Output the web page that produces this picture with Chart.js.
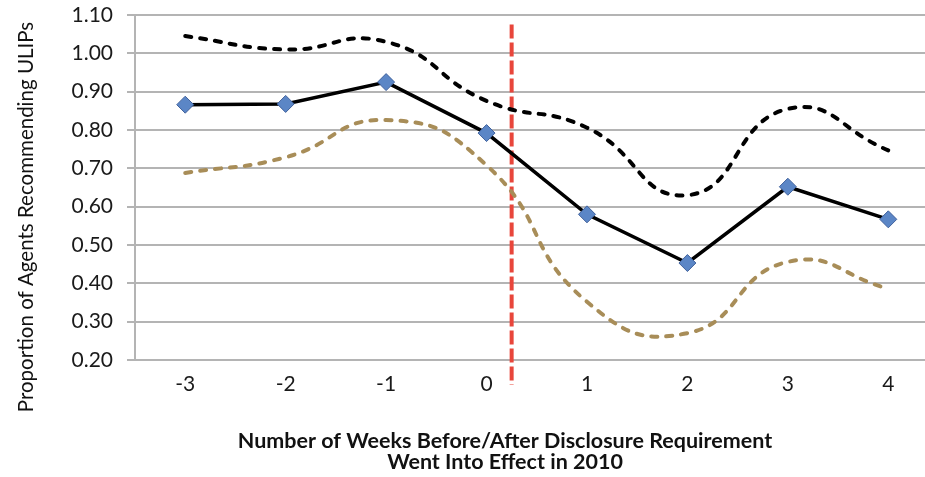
<!DOCTYPE html>
<html>
<head>
<meta charset="utf-8">
<script src="https://cdn.jsdelivr.net/npm/chart.js@4/dist/chart.umd.min.js"></script>
<style>
  html, body { margin: 0; padding: 0; background: #fff; overflow: hidden; }
  #wrap { width: 925px; height: 477px; overflow: hidden; }
</style>
</head>
<body>
<div id="wrap"><canvas id="c" width="948" height="477"></canvas></div>
<script>
// Weeks relative to the disclosure requirement
const weeks = ['-3', '-2', '-1', '0', '1', '2', '3', '4'];
// Proportion of agents recommending ULIPs, with upper and lower bands
const proportion = [0.866, 0.868, 0.925, 0.792, 0.580, 0.453, 0.652, 0.567];
const upperBand  = [1.045, 1.010, 1.030, 0.876, 0.806, 0.630, 0.855, 0.747];
const lowerBand  = [0.688, 0.729, 0.826, 0.708, 0.352, 0.270, 0.456, 0.386];
// Y axis tick range
const yMin = 0.20, yMax = 1.10, yStep = 0.10;
// Disclosure requirement marker: week offset and vertical span (in axis units)
const disclosureWeek = 0.25;
const disclosureSpan = [1.075, 0.135];

const xTitleLines = ['Number of Weeks Before/After Disclosure Requirement', 'Went Into Effect in 2010'];
const yTitle = 'Proportion of Agents Recommending ULIPs';

const FONT = 'Lato, "Open Sans", "Liberation Sans", sans-serif';
const GRID = '#b4b4b4';

const disclosurePlugin = {
  id: 'disclosure',
  beforeDatasetsDraw(chart) {
    const x = chart.scales.x, y = chart.scales.y;
    const px = x.getPixelForValue(weeks.indexOf('0') + disclosureWeek);
    const ctx = chart.ctx;
    ctx.save();
    ctx.strokeStyle = '#e8463b';
    ctx.lineWidth = 4;
    ctx.setLineDash([14, 4]);
    ctx.beginPath();
    ctx.moveTo(px, y.getPixelForValue(disclosureSpan[0]));
    ctx.lineTo(px, y.getPixelForValue(disclosureSpan[1]));
    ctx.stroke();
    ctx.restore();
  }
};

const titlesPlugin = {
  id: 'titles',
  afterDraw(chart) {
    const ctx = chart.ctx;
    ctx.save();
    ctx.fillStyle = '#111';
    ctx.textAlign = 'center';
    ctx.textBaseline = 'alphabetic';
    ctx.font = 'bold 21.5px ' + FONT;
    ctx.fillText(xTitleLines[0], 505, 448);
    ctx.fillText(xTitleLines[1], 505, 469);
    ctx.translate(33, 217);
    ctx.rotate(-Math.PI / 2);
    ctx.font = '20.5px ' + FONT;
    ctx.fillText(yTitle, 0, 0);
    ctx.restore();
  }
};

new Chart(document.getElementById('c'), {
  type: 'line',
  data: {
    labels: weeks,
    datasets: [
      {
        label: 'Proportion',
        data: proportion,
        borderColor: '#000',
        borderWidth: 3.5,
        tension: 0,
        pointStyle: 'rectRot',
        pointRadius: 8.5,
        pointBackgroundColor: '#5b86c6',
        pointBorderColor: '#40619c',
        pointBorderWidth: 1,
        fill: false
      },
      {
        label: 'Upper',
        data: upperBand,
        borderColor: '#000',
        borderWidth: 4,
        borderDash: [6, 9],
        borderCapStyle: 'round',
        tension: 0.5,
        pointRadius: 0,
        fill: false
      },
      {
        label: 'Lower',
        data: lowerBand,
        borderColor: '#a88d58',
        borderWidth: 4,
        borderDash: [6, 9],
        borderCapStyle: 'round',
        tension: 0.5,
        pointRadius: 0,
        fill: false
      }
    ]
  },
  options: {
    responsive: false,
    animation: false,
    events: [],
    layout: { padding: { top: 15, right: 2, left: 0, bottom: 0 } },
    plugins: { legend: { display: false }, tooltip: { enabled: false }, title: { display: false } },
    scales: {
      x: {
        offset: true,
        grid: { display: false, drawTicks: false },
        border: { display: false },
        ticks: { color: '#1a1a1a', font: { family: FONT, size: 21 }, padding: 12, maxRotation: 0 },
        afterFit(scale) { scale.height = 117; scale.paddingLeft = 0; scale.paddingRight = 0; }
      },
      y: {
        min: yMin,
        max: yMax,
        grid: { color: GRID, lineWidth: 2, tickLength: 8 },
        border: { display: true, color: GRID, width: 2 },
        ticks: {
          stepSize: yStep,
          color: '#1a1a1a',
          font: { family: FONT, size: 21 },
          padding: 14,
          callback: v => Number(v).toFixed(2)
        },
        afterFit(scale) { scale.width = 135; scale.paddingTop = 0; scale.paddingBottom = 0; }
      }
    }
  },
  plugins: [disclosurePlugin, titlesPlugin]
});
</script>
</body>
</html>
